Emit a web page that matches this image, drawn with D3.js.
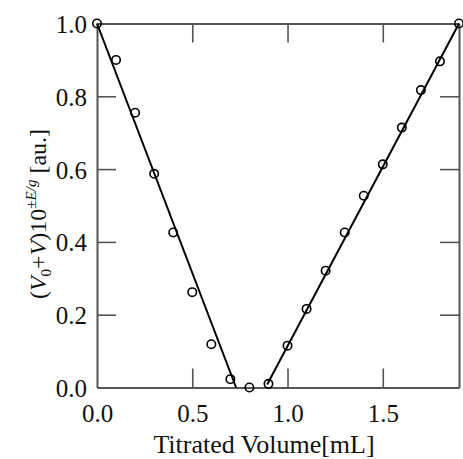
<!DOCTYPE html>
<html>
<head>
<meta charset="utf-8">
<script src="https://cdn.jsdelivr.net/npm/d3@7/dist/d3.min.js"></script>
<style>
  html, body { margin: 0; padding: 0; background: #fff; }
  svg { display: block; }
  text { font-family: "Liberation Serif", "Times New Roman", serif; fill: #111; }
</style>
</head>
<body>
<svg id="chart" width="463" height="459"></svg>
<script>
// Data
const volume = [0.0, 0.1, 0.2, 0.3, 0.4, 0.5, 0.6, 0.7, 0.8, 0.9, 1.0, 1.1, 1.2, 1.3, 1.4, 1.5, 1.6, 1.7, 1.8, 1.9];
const signal = [1.0, 0.90, 0.755, 0.587, 0.426, 0.262, 0.119, 0.023, 0.0, 0.01, 0.115, 0.216, 0.321, 0.426, 0.527, 0.613, 0.714, 0.817, 0.896, 1.0];
const fitLeft = [[0.0, 1.0], [0.73, 0.0]];
const fitRight = [[0.893, 0.008], [1.9, 1.0]];
const xTicks = [0.0, 0.5, 1.0, 1.5];
const yTicks = [0.0, 0.2, 0.4, 0.6, 0.8, 1.0];

const svg = d3.select("#chart");
const mLeft = 97, mRight = 459, mTop = 23.5, mBottom = 387.5;
const x = d3.scaleLinear().domain([0, 1.9]).range([mLeft, mRight]);
const y = d3.scaleLinear().domain([0, 1]).range([mBottom, mTop]);
const tickLen = 19;
const axisColor = "#555";

// axes with inward ticks
const gB = svg.append("g").attr("transform", `translate(0,${mBottom})`)
  .call(d3.axisBottom(x).tickValues(xTicks).tickSizeInner(-tickLen).tickSizeOuter(0).tickFormat(d3.format(".1f")));
const gT = svg.append("g").attr("transform", `translate(0,${mTop})`)
  .call(d3.axisTop(x).tickValues(xTicks.filter(d => d > 0)).tickSizeInner(-tickLen).tickSizeOuter(0).tickFormat(""));
const gL = svg.append("g").attr("transform", `translate(${mLeft},0)`)
  .call(d3.axisLeft(y).tickValues(yTicks).tickSizeInner(-tickLen).tickSizeOuter(0).tickFormat(d3.format(".1f")));
const gR = svg.append("g").attr("transform", `translate(${mRight},0)`)
  .call(d3.axisRight(y).tickValues(yTicks.filter(d => d > 0 && d < 1)).tickSizeInner(-tickLen).tickSizeOuter(0).tickFormat(""));

[gB, gT, gL, gR].forEach(g => {
  g.select(".domain").attr("stroke", axisColor).attr("stroke-width", 2);
  g.selectAll(".tick line").attr("stroke", axisColor).attr("stroke-width", 1.6);
  g.selectAll(".tick text").style("font-family", '"Liberation Serif", serif').style("font-size", "25px").attr("fill", "#111");
});
gB.selectAll(".tick text").attr("y", 34).attr("dy", 0);
gL.selectAll(".tick text").attr("x", -10).attr("dy", "0.36em");
// remove tick lines that coincide with the frame
gB.selectAll(".tick").filter(d => d === 0).select("line").remove();
gL.selectAll(".tick").filter(d => d === 0 || d === 1).select("line").remove();

// fit lines
const line = d3.line().x(d => x(d[0])).y(d => y(d[1]));
[fitLeft, fitRight].forEach(seg => {
  svg.append("path").attr("d", line(seg)).attr("fill", "none").attr("stroke", "#000").attr("stroke-width", 2);
});

// data points
svg.append("g").selectAll("circle").data(volume.map((v, i) => [v, signal[i]]))
  .join("circle")
  .attr("cx", d => x(d[0])).attr("cy", d => y(d[1])).attr("r", 4.2)
  .attr("fill", "none").attr("stroke", "#000").attr("stroke-width", 1.6);

// x title
svg.append("text").attr("x", 264).attr("y", 453)
  .attr("text-anchor", "middle").style("font-size", "26px")
  .text("Titrated Volume[mL]");

// y title
const yt = svg.append("text")
  .attr("transform", `translate(46,214) rotate(-90)`)
  .attr("text-anchor", "middle").style("font-size", "24px");
yt.append("tspan").text("(");
yt.append("tspan").style("font-style", "italic").text("V");
yt.append("tspan").attr("dy", 5).style("font-size", "15px").text("0");
yt.append("tspan").attr("dy", -5).text("+");
yt.append("tspan").style("font-style", "italic").text("V");
yt.append("tspan").text(")10");
yt.append("tspan").attr("dy", -10).style("font-size", "15px").text("±");
yt.append("tspan").style("font-size", "15px").style("font-style", "italic").text("E/g");
yt.append("tspan").attr("dy", 10).text(" [au.]");
</script>
</body>
</html>
